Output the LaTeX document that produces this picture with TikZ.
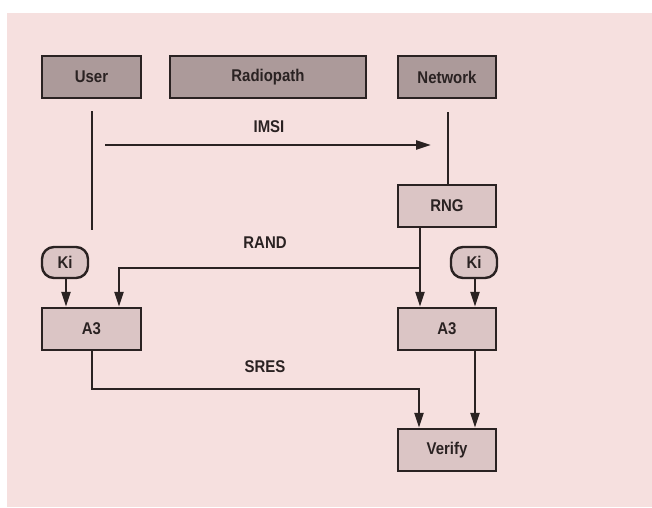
\documentclass[tikz,border=0pt]{standalone}
\usepackage{fontspec}
\setmainfont{Liberation Sans}[FakeStretch=0.88]
\usetikzlibrary{arrows.meta}
\definecolor{bgpink}{HTML}{F6E0DF}
\definecolor{darkfill}{HTML}{AC9A9A}
\definecolor{lightfill}{HTML}{DBC5C5}
\definecolor{ink}{HTML}{2A2222}
\tikzset{
  txt/.style={font=\bfseries\fontsize{17}{20}\selectfont, text=ink},
  topbox/.style={txt, draw=ink, line width=2.4pt, fill=darkfill, minimum height=42pt, inner sep=0pt},
  lowbox/.style={txt, draw=ink, line width=2.4pt, fill=lightfill, minimum width=98pt, minimum height=42pt, inner sep=0pt},
  keybox/.style={txt, draw=ink, line width=2.4pt, fill=lightfill, rounded corners=12pt, minimum width=46pt, minimum height=31pt, inner sep=0pt},
  lbl/.style={txt},
  conn/.style={draw=ink, line width=2.4pt},
  arr/.style={conn, -{Triangle[length=15pt,width=9pt]}}
}
\begin{document}
\begin{tikzpicture}[x=1pt,y=-1pt]
\useasboundingbox (0,0) rectangle (652,507);
\fill[bgpink] (7,13) rectangle (652,507);
% top boxes
\node[topbox, minimum width=99pt] (user) at (91.5,77) {User};
\node[topbox, minimum width=196pt] (radio) at (268,77) {Radiopath};
\node[topbox, minimum width=98pt] (net) at (447,77) {Network};
% vertical lines
\coordinate (ut) at (92,111);
\coordinate (ub) at (92,230);
\draw[conn] (ut) -- (ub);
\coordinate (nt) at (448,112);
% RNG
\node[lowbox] (rng) at (447,206) {RNG};
\draw[conn] (nt) -- (rng.north -| nt);
% IMSI
\coordinate (is) at (105,145);
\coordinate (ie) at (431,145);
\draw[arr] (is) -- (ie);
\node[lbl] (imsi) at (269,127) {IMSI};
% Ki boxes
\node[keybox] (kil) at (65,262.5) {Ki};
\node[keybox] (kir) at (474,262.5) {Ki};
% A3 boxes
\node[lowbox, minimum width=99pt] (a3l) at (91.5,329) {A3};
\node[lowbox] (a3r) at (447,329) {A3};
% Verify
\node[lowbox] (ver) at (447,450) {Verify};
% RAND
\coordinate (rx) at (420,227);
\coordinate (rj) at (420,268);
\coordinate (rl) at (119,268);
\draw[arr] (rng.south -| rx) -- (a3r.north -| rx);
\draw[arr] (rj) -- (rl) -- (a3l.north -| rl);
\node[lbl] (rand) at (265,243) {RAND};
% Ki arrows
\draw[arr] (kil.south -| 66,0) -- (a3l.north -| 66,0);
\draw[arr] (kir.south -| 475,0) -- (a3r.north -| 475,0);
% SRES
\coordinate (s1) at (92,389);
\coordinate (s2) at (419,389);
\draw[arr] (a3l.south -| s1) -- (s1) -- (s2) -- (ver.north -| s2);
\node[lbl] (sres) at (265,367) {SRES};
\draw[arr] (a3r.south -| 475,0) -- (ver.north -| 475,0);
\end{tikzpicture}
\end{document}
